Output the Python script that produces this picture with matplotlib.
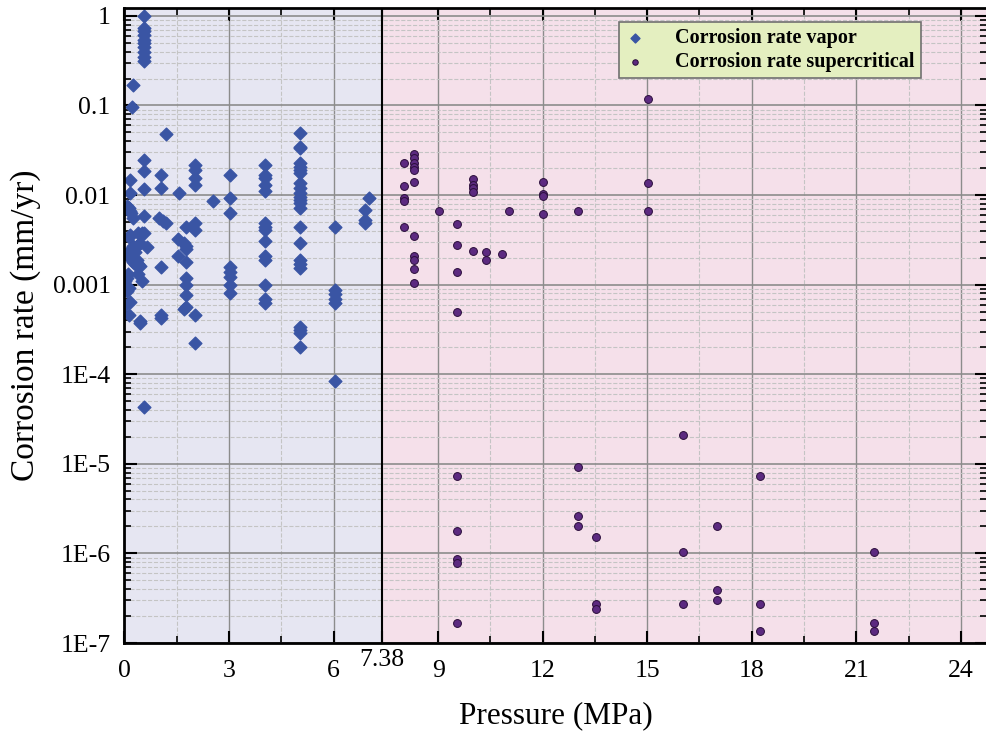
import matplotlib
matplotlib.use("Agg")
import matplotlib.pyplot as plt
import matplotlib.ticker as mticker
import matplotlib.transforms as mtransforms
import numpy as np

plt.rcParams['font.family'] = ['Liberation Serif', 'DejaVu Serif']

# vapor phase data (pressure MPa, corrosion rate mm/yr)
vapor_p = [0.55, 0.55, 0.55, 0.55, 0.55, 0.55, 0.55, 0.55, 0.55, 0.55,
           0.25, 0.22, 1.18,
           0.55, 0.55, 0.55, 0.55, 0.55, 0.64, 0.44, 0.55,
           1.06, 1.06, 1.56, 1.0, 1.1, 1.2, 1.06, 1.06, 1.06,
           2.02, 2.02, 2.02, 2.02, 2.02, 2.02, 2.02, 2.02,
           1.78, 1.54, 1.7, 1.78, 1.78, 1.54, 1.78, 1.78, 1.78, 1.78, 1.78, 1.72,
           2.54,
           3.02, 3.02, 3.02, 3.02, 3.02, 3.02, 3.02, 3.02,
           4.03, 4.03, 4.03, 4.03, 4.03, 4.03, 4.03, 4.03, 4.03, 4.03, 4.03, 4.03, 4.03, 4.03,
           5.03, 5.03, 5.03, 5.03, 5.03, 5.03, 5.03, 5.03, 5.03, 5.03, 5.03, 5.03,
           5.03, 5.03, 5.03, 5.03, 5.03, 5.03, 5.03, 5.03, 5.03, 5.03, 5.03,
           6.03, 6.03, 6.03, 6.03, 6.03, 6.03,
           7.03, 6.9, 6.9, 6.9,
           0.16, 0.16, 0.06, 0.16, 0.25, 0.13, 0.2, 0.16, 0.25, 0.35, 0.44, 0.06,
           0.16, 0.3, 0.44, 0.06, 0.5, 0.06, 0.16, 0.13, 0.4, 0.5, 0.4, 0.4,
           0.13, 0.13, 0.2, 0.3, 0.35, 0.1, 0.25, 0.02, 0.02, 0.45]
vapor_rate = [1.0, 0.73, 0.67, 0.61, 0.54, 0.50, 0.45, 0.40, 0.35, 0.31,
              0.17, 0.097, 0.048,
              0.0247, 0.0186, 0.0116, 0.0059, 0.0038, 0.0026, 0.00039, 4.3e-5,
              0.0168, 0.012, 0.0105, 0.0055, 0.0051, 0.0049, 0.00159, 0.00046, 0.00042,
              0.0217, 0.019, 0.0154, 0.013, 0.0049, 0.0041, 0.00046, 0.000225,
              0.00445, 0.0032, 0.0029, 0.0027, 0.0025, 0.0021, 0.00181, 0.00118, 0.00098, 0.00077, 0.00057, 0.00053,
              0.0085,
              0.0168, 0.0092, 0.0063, 0.00159, 0.0014, 0.00122, 0.00098, 0.0008,
              0.0217, 0.0168, 0.0154, 0.013, 0.011, 0.0049, 0.0044, 0.0041, 0.0031, 0.0021, 0.0019, 0.00098, 0.0007, 0.00062,
              0.049, 0.0347, 0.0333, 0.0227, 0.0207, 0.019, 0.0175, 0.0136, 0.012, 0.0105, 0.0096, 0.0088,
              0.0081, 0.0071, 0.0044, 0.0029, 0.00188, 0.00168, 0.00155, 3.4e-4, 3.1e-4, 2.9e-4, 2.0e-4,
              0.0044, 0.00088, 0.00078, 0.00069, 0.00062, 8.5e-5,
              0.0092, 0.0068, 0.0053, 0.0049,
              0.0148, 0.0105, 0.0075, 0.0066, 0.0055, 0.0071, 0.0063, 0.0036, 0.0027, 0.0027, 0.0029, 0.0022,
              0.002, 0.0017, 0.0016, 0.0012, 0.0011, 0.00084, 0.00064, 0.00046, 0.0038, 0.0038, 0.0017, 0.0013,
              0.00091, 0.0034, 0.0025, 0.0023, 0.0019, 0.0013, 0.0018, 0.0011, 0.0006, 0.00037]

# supercritical data
super_p = [15.02, 8.02, 8.3, 8.3, 8.3, 8.3, 8.3, 8.3, 8.02, 8.02, 8.02, 8.02, 8.3, 8.3, 8.3, 8.3, 8.3,
           9.02, 9.53, 9.53, 9.53, 9.53, 10.01, 10.01, 10.01, 10.01, 10.01, 10.36, 10.36, 10.83, 11.02,
           12.02, 12.02, 12.02, 12.02, 13.02, 15.02, 15.02,
           9.53, 9.53, 9.53, 9.53, 9.53, 13.02, 13.02, 13.02, 13.52, 13.52, 13.52,
           16.02, 16.02, 16.02, 17.0, 17.0, 17.0, 18.23, 18.23, 18.23, 21.52, 21.52, 21.52]
super_rate = [0.117, 0.0227, 0.0288, 0.0258, 0.0227, 0.0207, 0.019, 0.0139, 0.0127, 0.0092, 0.0085, 0.0044,
              0.0035, 0.0021, 0.0019, 0.0015, 0.00105,
              0.0067, 0.0047, 0.0028, 0.00137, 0.0005, 0.0151, 0.013, 0.012, 0.0107, 0.0024, 0.0023, 0.0019,
              0.0022, 0.0067,
              0.0139, 0.0103, 0.0098, 0.0062, 0.0067, 0.0136, 0.0067,
              7.4e-6, 1.8e-6, 8.6e-7, 7.9e-7, 1.66e-7, 9.3e-6, 2.6e-6, 2.0e-6, 1.54e-6, 2.7e-7, 2.4e-7,
              2.1e-5, 1.05e-6, 2.7e-7, 2.0e-6, 3.9e-7, 3.0e-7, 7.4e-6, 2.7e-7, 1.37e-7, 1.05e-6, 1.66e-7, 1.37e-7]

critical_p = 7.38
x_ticks = [0, 3, 6, 7.38, 9, 12, 15, 18, 21, 24]
x_tick_labels = ["0", "3", "6", "7.38", "9", "12", "15", "18", "21", "24"]
y_ticks = [1e-7, 1e-6, 1e-5, 1e-4, 1e-3, 1e-2, 1e-1, 1]
y_tick_labels = ["1E-7", "1E-6", "1E-5", "1E-4", "0.001", "0.01", "0.1", "1"]

fig = plt.figure(figsize=(9.87, 7.38), dpi=100)
ax = fig.add_axes([0.1261, 0.1287, 0.8739, 0.8611])

xmax = 24.75
ax.set_xlim(0, xmax)
ax.set_yscale("log")
ax.set_ylim(1e-7, 1.24)

# shaded regions
ax.axvspan(0, critical_p, color="#e6e6f2", zorder=0)
ax.axvspan(critical_p, xmax, color="#f5e0ea", zorder=0)
ax.axvline(critical_p, color="black", lw=1.5, zorder=3)

# grid
ax.set_xticks(x_ticks)
ax.set_xticklabels(x_tick_labels)
ax.xaxis.set_minor_locator(mticker.FixedLocator([1.5, 4.5, 10.5, 13.5, 16.5, 19.5, 22.5]))
ax.set_yticks(y_ticks)
ax.set_yticklabels(y_tick_labels)
ax.yaxis.set_minor_locator(mticker.LogLocator(base=10, subs=np.arange(2, 10), numticks=20))
ax.yaxis.set_minor_formatter(mticker.NullFormatter())
ax.grid(True, which="major", color="#8c8c8c", lw=1.2, zorder=1)
ax.grid(True, which="minor", color="#c4c4c4", lw=0.8, linestyle="--", zorder=1)
ax.xaxis.grid(False, which="major")
for xv in [0, 3, 6, 9, 12, 15, 18, 21, 24]:
    ax.axvline(xv, color="#8c8c8c", lw=1.0, zorder=1)

ax.scatter(vapor_p, vapor_rate, marker="D", s=42, color="#3a55a4",
           zorder=4, label="Corrosion rate vapor")
ax.scatter(super_p, super_rate, marker="o", s=32, color="#5c2a80",
           edgecolors="#2a0d3a", linewidths=0.7, zorder=4,
           label="Corrosion rate supercritical")

ax.tick_params(which="both", direction="in", top=True, right=True, labelsize=18.5)
ax.tick_params(which="major", length=9, width=1.5)
ax.tick_params(which="minor", length=5, width=1.2)
ax.tick_params(axis="x", pad=12)
ax.tick_params(axis="y", pad=10)
for s in ax.spines.values():
    s.set_linewidth(2)
    s.set_zorder(5)

# raise the 7.38 label a bit
lbl = ax.get_xticklabels()[3]
lbl.set_transform(lbl.get_transform() + mtransforms.ScaledTranslation(0, 7.5 / 72, fig.dpi_scale_trans))

ax.set_xlabel("Pressure (MPa)", fontsize=22.5, labelpad=14)
ax.set_ylabel("Corrosion rate (mm/yr)", fontsize=24, labelpad=8)

leg = ax.legend(loc="upper right", bbox_to_anchor=(0.923, 0.977), frameon=True,
                fancybox=False, prop={"size": 14.5, "weight": "bold"},
                handlelength=1.0, handletextpad=1.5, borderpad=0.3, labelspacing=0.2,
                markerscale=0.7, borderaxespad=0)
leg.get_frame().set_facecolor("#e4efc0")
leg.get_frame().set_edgecolor("#707070")
leg.get_frame().set_linewidth(1.2)
leg.get_frame().set_alpha(1)
leg.set_zorder(6)

fig.savefig("out.png", dpi=100)
